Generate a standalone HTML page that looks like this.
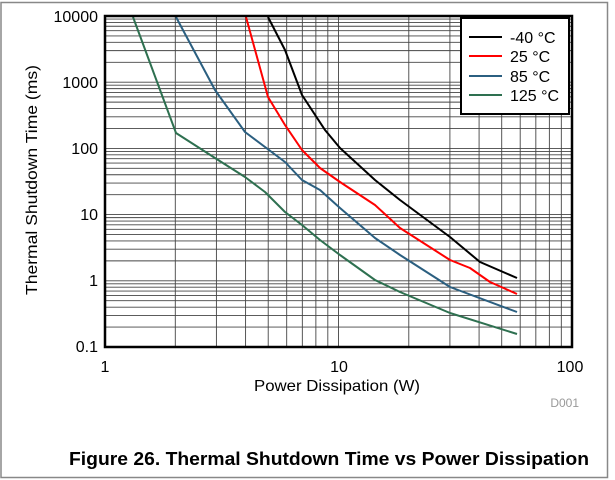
<!DOCTYPE html>
<html><head><meta charset="utf-8"><style>
html,body{margin:0;padding:0;background:#fff;width:615px;height:480px;overflow:hidden}
svg{display:block;font-family:"Liberation Sans",Arial,sans-serif}
</style></head><body>
<svg id="s" width="615" height="480" viewBox="0 0 615 480" xmlns="http://www.w3.org/2000/svg">
<rect x="1" y="2.5" width="606.5" height="475" fill="none" stroke="#888" stroke-width="1.5"/>
<g id="grid" stroke="#444" stroke-width="0.9"></g>
<g fill="none" stroke-width="2" stroke-linejoin="round">
<polyline stroke="#2e7050" points="133,17 176,133 215,158 245,177 265,192 285,212 302,225 320,240 340,255 375,280 400,292 450,313 517,334"/>
<polyline stroke="#2b5f80" points="176,17 215,90 245,132 285,162 302,180 320,190 340,208 375,238 400,255 450,287 517,312"/>
<polyline stroke="#ff0000" points="246,17 268,97 285,125 302,150 320,168 340,182 375,205 400,228 450,260 470,268 490,282 517,294"/>
<polyline stroke="#000" points="268,17 285,50 302,95 325,130 340,148 375,180 400,200 450,237 480,262 517,278"/>
</g>
<rect x="105" y="16" width="467" height="331" fill="none" stroke="#000" stroke-width="2.5"/>
<rect x="461" y="18" width="108" height="96" fill="#fff" stroke="#000" stroke-width="2"/>
<g stroke-width="2">
<line x1="469" y1="37" x2="502" y2="37" stroke="#000"/>
<line x1="469" y1="56" x2="502" y2="56" stroke="#f00"/>
<line x1="469" y1="76" x2="502" y2="76" stroke="#2b5f80"/>
<line x1="469" y1="95" x2="502" y2="95" stroke="#2e7050"/>
</g>
<g font-size="16" fill="#000">
<text x="510" y="43">-40 °C</text>
<text x="510" y="62">25 °C</text>
<text x="510" y="82">85 °C</text>
<text x="510" y="101">125 °C</text>
</g>
<g font-size="16" fill="#000" text-anchor="end">
<text x="98" y="22">10000</text>
<text x="98" y="88">1000</text>
<text x="98" y="154">100</text>
<text x="98" y="220">10</text>
<text x="98" y="286">1</text>
<text x="98" y="352">0.1</text>
</g>
<g font-size="16" fill="#000" text-anchor="middle">
<text x="105" y="372">1</text>
<text x="339" y="372">10</text>
<text x="570" y="372">100</text>
<text x="337" y="391" textLength="166" lengthAdjust="spacingAndGlyphs">Power Dissipation (W)</text>
</g>
<text x="579" y="407" font-size="12" fill="#999" text-anchor="end">D001</text>
<text transform="translate(37,180) rotate(-90)" font-size="16" text-anchor="middle" textLength="230" lengthAdjust="spacingAndGlyphs">Thermal Shutdown Time (ms)</text>
<text x="69" y="465" font-size="18" font-weight="bold" textLength="520" lengthAdjust="spacingAndGlyphs">Figure 26. Thermal Shutdown Time vs Power Dissipation</text>
</svg>
<script>
var g=document.getElementById('grid'),ns='http://www.w3.org/2000/svg';
function ln(x1,y1,x2,y2){var l=document.createElementNS(ns,'line');l.setAttribute('x1',x1);l.setAttribute('y1',y1);l.setAttribute('x2',x2);l.setAttribute('y2',y2);g.appendChild(l);}
for(var d=0;d<2;d++)for(var k=2;k<=10;k++){var x=105+233.5*(d+Math.log10(k));if(x<571)ln(x,16,x,347);}
for(var d=0;d<5;d++)for(var k=2;k<=10;k++){var y=347-66.2*(d+Math.log10(k));if(y>17)ln(105,y,572,y);}
</script>
</body></html>
